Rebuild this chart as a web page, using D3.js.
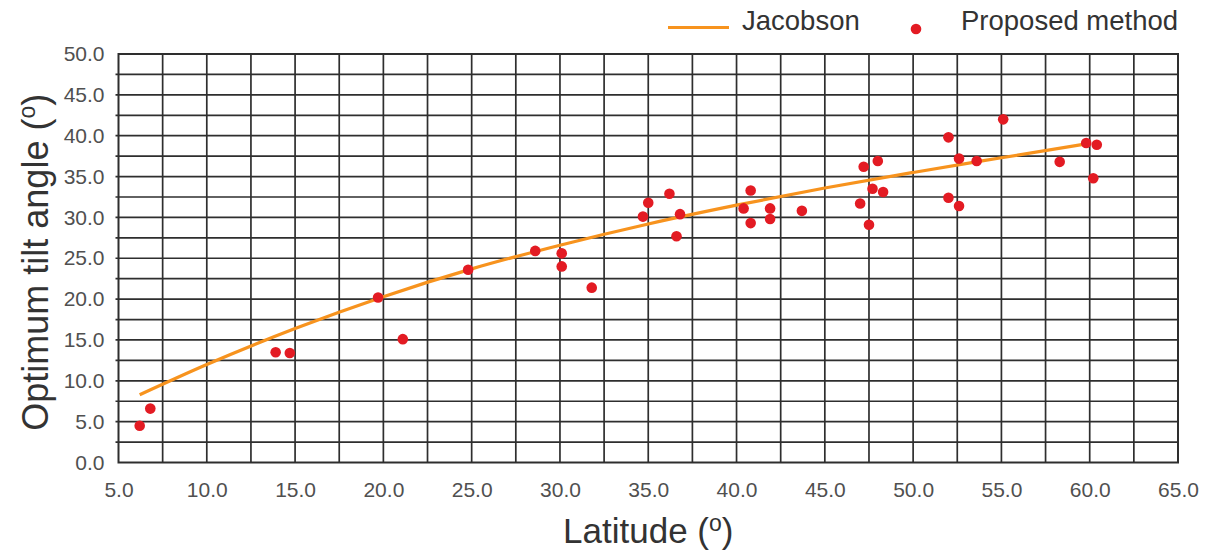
<!DOCTYPE html>
<html>
<head>
<meta charset="utf-8">
<script src="https://cdn.jsdelivr.net/npm/d3@7"></script>
<style>
  html, body { margin: 0; padding: 0; background: #ffffff; }
  svg { display: block; font-family: "Liberation Sans", Arial, sans-serif; }
</style>
</head>
<body>
<svg id="chart" width="1210" height="553"></svg>
<script>
// Axis tick labels
const xTicks = [5, 10, 15, 20, 25, 30, 35, 40, 45, 50, 55, 60, 65];
const yTicks = [0, 5, 10, 15, 20, 25, 30, 35, 40, 45, 50];

// Proposed method: latitude (°) and optimum tilt angle (°)
const proposedLat = [6.2, 6.8, 13.9, 14.7, 19.7, 21.1, 24.8, 28.6, 30.1, 30.1,
  31.8, 34.7, 35.0, 36.2, 36.6, 36.8, 40.4, 40.8, 40.8, 41.9,
  41.9, 43.7, 47.0, 47.2, 47.5, 47.7, 48.0, 48.3, 52.0, 52.0,
  52.6, 52.6, 53.6, 55.1, 58.3, 59.8, 60.4, 60.2];
const proposedTilt = [4.5, 6.6, 13.5, 13.4, 20.2, 15.1, 23.6, 25.9, 25.6, 24.0,
  21.4, 30.1, 31.8, 32.9, 27.7, 30.4, 31.1, 33.3, 29.3, 31.1,
  29.8, 30.8, 31.7, 36.2, 29.1, 33.5, 36.9, 33.1, 32.4, 39.8,
  37.2, 31.4, 36.9, 42.0, 36.8, 39.1, 38.9, 34.8];

// Jacobson curve: latitude (°) and tilt angle (°)
const jacobsonLat = [6.2, 10, 15, 20, 25, 30, 35, 40, 45, 50, 55, 59.8];
const jacobsonTilt = [8.3, 12.0, 16.4, 20.3, 23.7, 26.6, 29.2, 31.5, 33.6, 35.5, 37.3, 39.0];

const svg = d3.select("#chart");
const plotLeft = 118.5, plotRight = 1178, plotTop = 54, plotBottom = 462.5;

const x = d3.scaleLinear().domain([5, 65]).range([plotLeft, plotRight]);
const y = d3.scaleLinear().domain([0, 50]).range([plotBottom, plotTop]);

const gridColor = "#2e2e2e";
const labelColor = "#505050";

// Grid every 2.5 units
const gridX = d3.range(7.5, 65, 2.5);
const gridY = d3.range(2.5, 50, 2.5);

const grid = svg.append("g");
grid.selectAll("line.v").data(gridX).join("line")
  .attr("class", "v")
  .attr("x1", d => x(d)).attr("x2", d => x(d))
  .attr("y1", plotTop).attr("y2", plotBottom)
  .attr("stroke", gridColor).attr("stroke-width", 1.7);
grid.selectAll("line.h").data(gridY).join("line")
  .attr("class", "h")
  .attr("x1", plotLeft - 3).attr("x2", plotRight)
  .attr("y1", d => y(d)).attr("y2", d => y(d))
  .attr("stroke", gridColor).attr("stroke-width", 1.7);

// Plot frame
svg.append("rect")
  .attr("x", plotLeft).attr("y", plotTop)
  .attr("width", plotRight - plotLeft).attr("height", plotBottom - plotTop)
  .attr("fill", "none").attr("stroke", gridColor).attr("stroke-width", 2);

// Tick labels via d3 axes
const xAxis = svg.append("g")
  .attr("transform", `translate(0,${plotBottom})`)
  .call(d3.axisBottom(x).tickValues(xTicks).tickFormat(d3.format(".1f")).tickSize(0).tickPadding(20));
const yAxis = svg.append("g")
  .attr("transform", `translate(${plotLeft},0)`)
  .call(d3.axisLeft(y).tickValues(yTicks).tickFormat(d3.format(".1f")).tickSize(0).tickPadding(14));
[xAxis, yAxis].forEach(a => {
  a.select(".domain").remove();
  a.selectAll("text")
    .attr("font-family", "Liberation Sans, Arial, sans-serif")
    .attr("font-size", 21)
    .attr("fill", labelColor);
});

// Jacobson curve
const line = d3.line()
  .x((d, i) => x(jacobsonLat[i]))
  .y((d, i) => y(jacobsonTilt[i]))
  .curve(d3.curveMonotoneX);
svg.append("path")
  .datum(jacobsonLat)
  .attr("d", line)
  .attr("fill", "none")
  .attr("stroke", "#f7931e")
  .attr("stroke-width", 3.2);

// Proposed method points
svg.append("g").selectAll("circle").data(proposedLat).join("circle")
  .attr("cx", d => x(d))
  .attr("cy", (d, i) => y(proposedTilt[i]))
  .attr("r", 5.3)
  .attr("fill", "#e31b23");

// Axis titles
const xTitle = svg.append("text")
  .attr("x", (plotLeft + plotRight) / 2).attr("y", 543)
  .attr("text-anchor", "middle")
  .attr("font-size", 35).attr("fill", "#333333")
  .text("Latitude (");
xTitle.append("tspan").attr("font-size", 23).attr("dy", -12).text("o");
xTitle.append("tspan").attr("dy", 12).text(")");

const yTitle = svg.append("text")
  .attr("transform", `translate(48,${(plotTop + plotBottom) / 2 + 4}) rotate(-90)`)
  .attr("text-anchor", "middle")
  .attr("font-size", 36).attr("fill", "#333333")
  .text("Optimum tilt angle (");
yTitle.append("tspan").attr("font-size", 23).attr("dy", -13).text("o");
yTitle.append("tspan").attr("dy", 13).text(")");

// Legend
const legend = svg.append("g");
legend.append("line")
  .attr("x1", 668).attr("x2", 729).attr("y1", 27.5).attr("y2", 27.5)
  .attr("stroke", "#f7931e").attr("stroke-width", 3.2);
legend.append("text")
  .attr("x", 742).attr("y", 30)
  .attr("font-size", 27.5).attr("fill", "#333333")
  .text("Jacobson");
legend.append("circle")
  .attr("cx", 916).attr("cy", 29).attr("r", 5.3)
  .attr("fill", "#e31b23");
legend.append("text")
  .attr("x", 961).attr("y", 30)
  .attr("font-size", 27.5).attr("fill", "#333333")
  .text("Proposed method");
</script>
</body>
</html>
